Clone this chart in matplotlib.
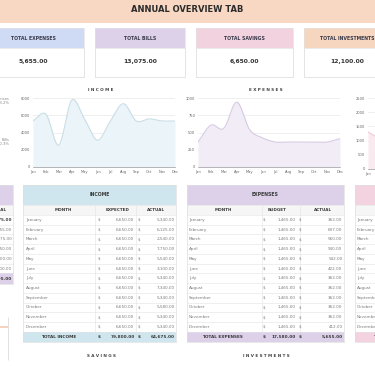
import numpy as np
import matplotlib
matplotlib.use("Agg")
import matplotlib.pyplot as plt
from matplotlib.patches import Rectangle

# ---------------- data ----------------
months = ["January", "February", "March", "April", "May", "June", "July",
          "August", "September", "October", "November", "December"]
month_abbr = ["Jan", "Feb", "Mar", "Apr", "May", "Jun", "Jul", "Aug", "Sep", "Oct", "Nov", "Dec"]

income_expected = [6650, 6650, 6650, 6650, 6650, 6650, 6650, 6650, 6650, 6650, 6650, 6650]
income_actual = [5340, 6125, 2540, 7750, 5540, 3100, 5340, 7340, 5340, 5580, 5340, 5340]
expenses_budget = [1465, 1465, 1465, 1465, 1465, 1465, 1465, 1465, 1465, 1465, 1465, 1465]
expenses_actual = [362, 607, 560, 940, 542, 422, 362, 362, 362, 362, 362, 412]
bills_actual = [1300, 1075, 1100, 1050, 1100, 1050, 1075, 1100, 1050, 1075, 1000, 1100]

kpi_labels = ["TOTAL EXPENSES", "TOTAL BILLS", "TOTAL SAVINGS", "TOTAL INVESTMENTS"]
kpi_values = [5655.00, 13075.00, 6650.00, 12100.00]
kpi_colors = ["#cfdaf4", "#ddd1ea", "#f3d2e0", "#f7d6c0"]

summary_values = [64675.00, 5655.00, 13075.00, 6650.00, 12100.00, 1200.00, 25995.00]
pie_labels = ["Expenses\n13.2%", "Bills\n30.3%"]

income_ticks = [0, 2000, 4000, 6000, 8000]
expense_ticks = [0, 250, 500, 750, 1000]
bills_ticks = [0, 500, 1000, 1500, 2000, 2500]

W, H = 375, 366
fig = plt.figure(figsize=(W / 100, H / 100), dpi=100)
fig.patch.set_facecolor("white")
bg = fig.add_axes([0, 0, 1, 1])
bg.set_xlim(0, W)
bg.set_ylim(H, 0)
bg.axis("off")

FONT = "DejaVu Sans"
TXT = "#7b7b7b"
DARK = "#3a3a3a"
GRID = "#e4e4e4"


def fmt(v):
    return f"{v:,.2f}"


def rect(x, y, w, h, fc, ec="none", lw=0.0, z=1):
    bg.add_patch(Rectangle((x, y), w, h, facecolor=fc, edgecolor=ec, linewidth=lw, zorder=z))


def hline(x0, x1, y, c=GRID, lw=0.4, z=3):
    bg.plot([x0, x1], [y, y], color=c, lw=lw, zorder=z, solid_capstyle="butt")


def vline(x, y0, y1, c=GRID, lw=0.4, z=3):
    bg.plot([x, x], [y0, y1], color=c, lw=lw, zorder=z, solid_capstyle="butt")


def spaced(s):
    return " ".join(s)


# ---------------- header ----------------
rect(0, 0, W, 22.5, "#f8d8c3")
bg.text(W / 2, 9, "ANNUAL OVERVIEW TAB", ha="center", va="center", fontsize=6.0,
        fontweight="bold", color="#2b2b2b", family=FONT)

# ---------------- KPI cards ----------------
card_x = [(-12, 84), (95, 185), (196, 293), (304, 400)]
for (x0, x1), lab, val, col in zip(card_x, kpi_labels, kpi_values, kpi_colors):
    rect(x0, 28, x1 - x0, 20, col, z=1)
    rect(x0, 48, x1 - x0, 29, "white", ec="#e2e2e2", lw=0.5, z=1)
    bg.add_patch(Rectangle((x0, 28), x1 - x0, 49, facecolor="none", edgecolor="#e2e2e2",
                           linewidth=0.5, zorder=2))
    cx = (x0 + x1) / 2
    if x0 < 0:
        cx = 33
    if x1 > W:
        cx = 347
    bg.text(cx, 38.5, lab, ha="center", va="center", fontsize=3.3, fontweight="bold",
            color="#3a3a4a", family=FONT)
    bg.text(cx, 62, fmt(val), ha="center", va="center", fontsize=4.3, fontweight="bold",
            color="#333333", family=FONT)


# ---------------- smooth curve helper ----------------
def smooth(yv, per=30):
    y = np.asarray(yv, float)
    n = len(y)
    m = np.zeros(n)
    m[1:-1] = (y[2:] - y[:-2]) / 2
    m[0] = y[1] - y[0]
    m[-1] = y[-1] - y[-2]
    xs, ys = [], []
    t = np.linspace(0, 1, per, endpoint=False)
    h00 = 2 * t ** 3 - 3 * t ** 2 + 1
    h10 = t ** 3 - 2 * t ** 2 + t
    h01 = -2 * t ** 3 + 3 * t ** 2
    h11 = t ** 3 - t ** 2
    for i in range(n - 1):
        xs.append(i + t)
        ys.append(h00 * y[i] + h10 * m[i] + h01 * y[i + 1] + h11 * m[i + 1])
    xs.append([n - 1])
    ys.append([y[-1]])
    return np.concatenate(xs), np.concatenate(ys)


def area_chart(px0, px1, ptop, pbot, values, ticks, line_c, fill_c, title=None, title_x=None):
    ax = fig.add_axes([px0 / W, (H - pbot) / H, (px1 - px0) / W, (pbot - ptop) / H])
    ax.set_facecolor("none")
    xs, ys = smooth(values)
    ax.fill_between(xs, 0, ys, color=fill_c, lw=0, zorder=2)
    ax.plot(xs, ys, color=line_c, lw=0.8, zorder=3)
    ax.set_xlim(0, len(values) - 1)
    ax.set_ylim(ticks[0], ticks[-1])
    ax.set_yticks(ticks)
    ax.set_yticklabels([str(t) for t in ticks])
    ax.set_xticks(range(len(values)))
    ax.set_xticklabels(month_abbr)
    ax.tick_params(axis="both", length=0, labelsize=2.6, labelcolor="#666666", pad=2)
    for lab in ax.get_xticklabels() + ax.get_yticklabels():
        lab.set_family(FONT)
    ax.grid(axis="y", color=GRID, lw=0.4, zorder=0)
    for s in ["top", "right", "left"]:
        ax.spines[s].set_visible(False)
    ax.spines["bottom"].set_color("#9a9a9a")
    ax.spines["bottom"].set_linewidth(0.5)
    ax.set_axisbelow(True)
    if title:
        bg.text(title_x, 90, spaced(title), ha="center", va="center", fontsize=3.0,
                fontweight="bold", color="#444444", family=FONT)
    return ax


area_chart(33, 175, 98, 167, income_actual, income_ticks, "#c8dde7", "#ebf4f8",
           "INCOME", 101)
area_chart(198, 340, 98, 167, expenses_actual, expense_ticks, "#d6cae3", "#f1ecf6",
           "EXPENSES", 266)
area_chart(368, 510, 98, 169, bills_actual, bills_ticks, "#f1c9d7", "#fbe9f0")

# partial pie labels on the left edge
for lab, y in zip(pie_labels, [101, 142]):
    bg.text(10, y, lab, ha="right", va="center", fontsize=2.7, color="#888888",
            family=FONT, linespacing=1.0)

# ---------------- tables ----------------
ROW_H = 9.73
T_TOP, T_COL, T_ROWS = 185, 205, 215


def table(x0, x1, title, head_c, cols, divs, cells, total_cells, nrows=12):
    rows_end = T_ROWS + ROW_H * nrows
    bottom = rows_end + 10.5
    rect(x0, T_TOP, x1 - x0, T_COL - T_TOP, head_c, z=1)
    rect(x0, T_COL, x1 - x0, T_ROWS - T_COL, "#f6f6f6", z=1)
    rect(x0, rows_end, x1 - x0, bottom - rows_end, head_c, z=1)
    bg.add_patch(Rectangle((x0, T_TOP), x1 - x0, bottom - T_TOP, facecolor="none",
                           edgecolor="#dedede", linewidth=0.5, zorder=4))
    if title:
        bg.text(title[1], (T_TOP + T_COL) / 2, title[0], ha="center", va="center",
                fontsize=3.3, fontweight="bold", color=DARK, family=FONT)
    for lab, cx in cols:
        bg.text(cx, (T_COL + T_ROWS) / 2, lab, ha="center", va="center", fontsize=3.0,
                fontweight="bold", color=DARK, family=FONT)
    hline(x0, x1, T_COL)
    for i in range(nrows + 1):
        hline(x0, x1, T_ROWS + ROW_H * i)
    for d in divs:
        vline(d, T_COL, rows_end)
    for i in range(nrows):
        cy = T_ROWS + ROW_H * (i + 0.5)
        for (txt, x, ha, bold) in cells(i):
            bg.text(x, cy, txt, ha=ha, va="center", fontsize=2.95,
                    fontweight="bold" if bold else "normal",
                    color=DARK if bold else TXT, family=FONT)
    cy = rows_end + (bottom - rows_end) / 2
    for (txt, x, ha) in total_cells:
        bg.text(x, cy, txt, ha=ha, va="center", fontsize=3.1, fontweight="bold",
                color=DARK, family=FONT)


# income table
table(23, 176, ("INCOME", 100), "#cfe6ee",
      [("MONTH", 63), ("EXPECTED", 118), ("ACTUAL", 156)], [95, 136],
      lambda i: [(months[i], 26, "left", False),
                 ("$", 98, "left", False), (fmt(income_expected[i]), 134.5, "right", False),
                 ("$", 138, "left", False), (fmt(income_actual[i]), 174.5, "right", False)],
      [("TOTAL INCOME", 59, "center"), ("$", 98, "left"),
       (fmt(sum(income_expected)), 134.5, "right"), ("$", 138, "left"),
       (fmt(sum(income_actual)), 174.5, "right")])

# expenses table
table(187, 344, ("EXPENSES", 265), "#ddd1ea",
      [("MONTH", 223), ("BUDGET", 277), ("ACTUAL", 323)], [262, 300],
      lambda i: [(months[i], 189, "left", False),
                 ("$", 262.5, "left", False), (fmt(expenses_budget[i]), 295.5, "right", False),
                 ("$", 298.5, "left", False), (fmt(expenses_actual[i]), 342.5, "right", False)],
      [("TOTAL EXPENSES", 222, "center"), ("$", 262.5, "left"),
       (fmt(sum(expenses_budget)), 295.5, "right"), ("$", 298.5, "left"),
       (fmt(sum(expenses_actual)), 342.5, "right")])

# savings table (partially visible on the right)
table(355, 520, None, "#f4d3e1",
      [("MONTH", 410)], [],
      lambda i: [(months[i], 357, "left", False)],
      [("TOTAL SAVINGS", 392, "center")])

# summary table (partially visible on the left)
table(-120, 13, None, "#ddd1ea",
      [("ACTUAL", -2)], [],
      lambda i: [(fmt(summary_values[i]), 12, "right", i == 0)],
      [(fmt(summary_values[-1]), 12, "right")], nrows=6)

# partial bar chart remnants at bottom-left
bg.add_patch(Rectangle((0, 325.8), 7.5, 2.2, facecolor="#f6d3bd", edgecolor="none", zorder=2))
vline(8, 317, 360, c="#d5d5d5", lw=0.5)

# bottom chart titles
bg.text(101, 356, spaced("SAVINGS"), ha="center", va="center", fontsize=3.0,
        fontweight="bold", color="#444444", family=FONT)
bg.text(266, 356, spaced("INVESTMENTS"), ha="center", va="center", fontsize=3.0,
        fontweight="bold", color="#444444", family=FONT)

fig.savefig("out.png", dpi=100, facecolor="white")
